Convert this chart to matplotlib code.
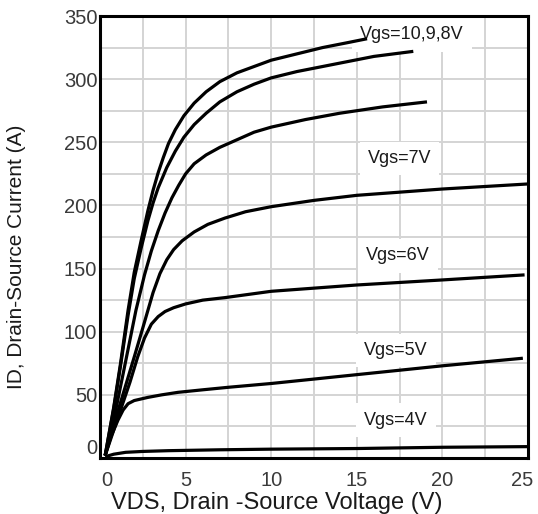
import matplotlib
matplotlib.use("Agg")
import matplotlib.pyplot as plt
import matplotlib.transforms as mtransforms
from matplotlib import font_manager
import numpy as np

# ---- data ----
vgs10_v = [0.3, 0.8, 1.2, 1.64, 2.0, 2.4, 2.8, 3.1, 3.4, 3.7, 4.0, 4.4, 4.9, 5.5, 6.2, 7.0, 8.0, 9.0, 10, 11.5, 13, 14.5, 15.6]
vgs10_i = [2, 40, 75, 117, 147, 172, 196, 212, 226, 238, 249, 260, 271, 281, 290, 298, 305, 310, 315, 320, 325, 329, 332]
vgs9_v = [0.3, 0.8, 1.2, 1.64, 2.0, 2.4, 2.8, 3.1, 3.4, 3.9, 4.4, 4.9, 5.5, 6.2, 7.0, 8.0, 9.0, 10, 11.5, 13, 14.5, 16, 18.3]
vgs9_i = [2, 39, 73, 113, 142, 166, 188, 202, 214, 230, 243, 254, 264, 273, 282, 290, 296, 301, 306, 310, 314, 318, 322]
vgs8_v = [0.3, 0.8, 1.4, 2.1, 2.6, 3.0, 3.4, 3.8, 4.2, 4.6, 5.0, 5.5, 6.2, 7.0, 8.0, 9.0, 10, 12, 14, 16.5, 19.1]
vgs8_i = [2, 30, 70, 117, 145, 164, 180, 194, 206, 216, 225, 233, 240, 246, 252, 258, 262, 268, 273, 278, 282]
vgs7_v = [0.3, 1.0, 2.0, 2.5, 2.8, 3.1, 3.5, 3.9, 4.3, 4.8, 5.5, 6.3, 7.3, 8.5, 10, 12.5, 15, 20, 25]
vgs7_i = [2, 35, 80, 103, 117, 131, 146, 157, 165, 172, 179, 185, 190, 195, 199, 204, 208, 213, 217]
vgs6_v = [0.3, 0.8, 1.2, 1.75, 2.2, 2.6, 3.0, 3.4, 3.8, 4.3, 5.0, 6.0, 7.3, 10, 15, 20, 24.8]
vgs6_i = [2, 22, 38, 60, 80, 95, 106, 112, 116, 119, 122, 125, 127, 132, 137, 141, 145]
vgs5_v = [0.3, 0.64, 1.05, 1.35, 1.64, 2.0, 2.8, 3.6, 4.56, 6.0, 7.5, 10, 15, 20, 24.7]
vgs5_i = [2, 17, 30, 38, 43, 45.5, 48, 50, 52, 54, 56, 59, 66, 73, 79]
vgs4_v = [0.3, 0.8, 1.5, 2.5, 4, 7, 10, 15, 20, 25]
vgs4_i = [1, 3, 4.5, 5.2, 5.8, 6.5, 7, 7.5, 8.5, 9]

curves = [(vgs10_v, vgs10_i), (vgs9_v, vgs9_i), (vgs8_v, vgs8_i), (vgs7_v, vgs7_i),
          (vgs6_v, vgs6_i), (vgs5_v, vgs5_i), (vgs4_v, vgs4_i)]

labels = ["Vgs=10,9,8V", "Vgs=7V", "Vgs=6V", "Vgs=5V", "Vgs=4V"]
label_v = [18.2, 17.5, 17.4, 17.3, 17.3]
label_i = [335, 237, 160, 85, 30]

x_ticks = [0, 5, 10, 15, 20, 25]
y_ticks = [0, 50, 100, 150, 200, 250, 300, 350]

# ---- fonts ----
names = {f.name for f in font_manager.fontManager.ttflist}
narrow = "Liberation Sans Narrow" if "Liberation Sans Narrow" in names else "Liberation Sans"

fig = plt.figure(figsize=(5.38, 5.14), dpi=100)
ax = fig.add_axes([100/538, 1-458/514, 428/538, 442/514])

ax.set_xlim(0, 25)
ax.set_ylim(0, 350)
ax.set_xticks(np.arange(0, 25.01, 2.5))
ax.set_yticks(np.arange(0, 350.01, 25))
ax.grid(True, color="#d4d4d4", linewidth=1.4, zorder=0)
ax.set_axisbelow(True)

ax.set_xticklabels([str(int(t)) if t in x_ticks else "" for t in np.arange(0, 25.01, 2.5)])
ax.set_yticklabels([str(int(t)) if t in y_ticks else "" for t in np.arange(0, 350.01, 25)])
ax.tick_params(length=0, colors="#3a3a3a", labelsize=14.5)
ax.tick_params(axis="x", pad=9)
ax.tick_params(axis="y", pad=2)
for lab in ax.get_xticklabels() + ax.get_yticklabels():
    lab.set_family([narrow, "DejaVu Sans"])

# shift edge labels as in reference
xls = ax.get_xticklabels()
xls[0].set_transform(xls[0].get_transform() + mtransforms.ScaledTranslation(7/100, 0, fig.dpi_scale_trans))
xls[-1].set_transform(xls[-1].get_transform() + mtransforms.ScaledTranslation(-6/100, 0, fig.dpi_scale_trans))
yl0 = ax.get_yticklabels()[0]
yl0.set_transform(yl0.get_transform() + mtransforms.ScaledTranslation(0, 12/100, fig.dpi_scale_trans))

for s in ax.spines.values():
    s.set_color("black")
    s.set_linewidth(2.2)

for v, i in curves:
    ax.plot(v, i, color="black", linewidth=2.3, solid_capstyle="butt",
            solid_joinstyle="round", zorder=3)

for t, xv, yv in zip(labels, label_v, label_i):
    ax.text(xv, yv, t, ha="center", va="center", fontsize=13, color="#1a1a1a",
            family=[narrow, "DejaVu Sans"], zorder=2,
            bbox=dict(boxstyle="square,pad=0.45", facecolor="white", edgecolor="none"))

fig.text(277/538, 1-509/514, "VDS, Drain -Source Voltage (V)", ha="center", va="baseline",
         fontsize=17, color="#1a1a1a", family=["Liberation Sans", "DejaVu Sans"])
fig.text(17/538, 0.5, "ID, Drain-Source Current (A)", ha="center", va="center", rotation=90,
         fontsize=15, color="#1a1a1a", family=["Liberation Sans", "DejaVu Sans"])

fig.savefig("out.png", dpi=100)
